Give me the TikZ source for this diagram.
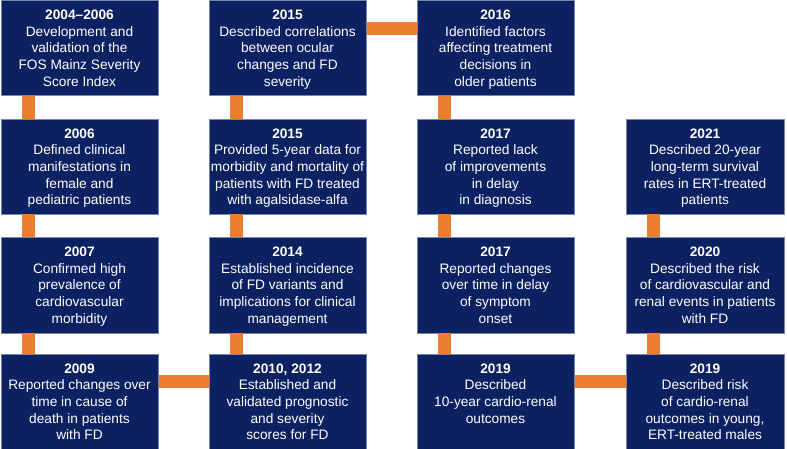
\documentclass[tikz,border=0pt]{standalone}
\usepackage{fontspec}
\setmainfont{Liberation Sans}
\usepackage{tikz}
\usetikzlibrary{positioning}
\definecolor{navy}{RGB}{11,33,97}
\definecolor{fosorange}{RGB}{237,125,49}

\begin{document}
\begin{tikzpicture}[x=1pt, y=-1pt,
    box/.style={rectangle, fill=navy, draw=navy!55!white, line width=0.5pt,
        anchor=north west, minimum width=157.5pt, minimum height=95pt, inner sep=0pt},
    txt/.style={anchor=north, align=center, text=white, inner sep=0pt,
        font=\fontsize{13.7}{16.7}\selectfont, yshift=-9.3pt},
    link/.style={draw=fosorange, line width=13pt}]
    \useasboundingbox (0,0) rectangle (787,449);

    % The boxes, column by column
    \node[box] (fos) at (0.5,0.5) {};
    \node[box] (clin) at (0.5,119) {};
    \node[box] (cardio) at (0.5,237.5) {};
    \node[box] (death) at (0.5,354) {};

    \node[box] (ocular) at (208.5,0.5) {};
    \node[box] (agal) at (208.5,119) {};
    \node[box] (variants) at (208.5,237.5) {};
    \node[box] (scores) at (208.5,354) {};

    \node[box] (older) at (416.5,0.5) {};
    \node[box] (delay) at (416.5,119) {};
    \node[box] (onset) at (416.5,237.5) {};
    \node[box] (tenyr) at (416.5,354) {};

    \node[box] (surv) at (626,119) {};
    \node[box] (risk) at (626,237.5) {};
    \node[box] (young) at (626,354) {};

    % Vertical links
    \foreach \a/\b in {fos/clin, clin/cardio, cardio/death,
                       ocular/agal, agal/variants, variants/scores,
                       older/delay, delay/onset, onset/tenyr,
                       surv/risk, risk/young}
        \draw[link] ([xshift=27.5pt]\a.south west) -- ([xshift=27.5pt]\b.north west);

    % Horizontal links
    \draw[link] ([yshift=-28pt]ocular.north east) -- ([yshift=-28pt]older.north west);
    \draw[link] ([yshift=-27pt]death.north east) -- ([yshift=-27pt]scores.north west);
    \draw[link] ([yshift=-27pt]tenyr.north east) -- ([yshift=-27pt]young.north west);

    % The texts
    \node[txt] (tfos) at (fos.north) {\textbf{2004\textendash2006}\\Development and\\validation of the\\FOS Mainz Severity\\Score Index};
    \node[txt] (tclin) at (clin.north) {\textbf{2006}\\Defined clinical\\manifestations in\\female and\\pediatric patients};
    \node[txt] (tcardio) at (cardio.north) {\textbf{2007}\\Confirmed high\\prevalence of\\cardiovascular\\morbidity};
    \node[txt] (tdeath) at (death.north) {\textbf{2009}\\Reported changes over\\time in cause of\\death in patients\\with FD};

    \node[txt] (tocular) at (ocular.north) {\textbf{2015}\\Described correlations\\between ocular\\changes and FD\\severity};
    \node[txt] (tagal) at (agal.north) {\textbf{2015}\\Provided 5-year data for\\morbidity and mortality of\\patients with FD treated\\with agalsidase-alfa};
    \node[txt] (tvariants) at (variants.north) {\textbf{2014}\\Established incidence\\of FD variants and\\implications for clinical\\management};
    \node[txt] (tscores) at (scores.north) {\textbf{2010, 2012}\\Established and\\validated prognostic\\and severity\\scores for FD};

    \node[txt] (tolder) at (older.north) {\textbf{2016}\\Identified factors\\affecting treatment\\decisions in\\older patients};
    \node[txt] (tdelay) at (delay.north) {\textbf{2017}\\Reported lack\\of improvements\\in delay\\in diagnosis};
    \node[txt] (tonset) at (onset.north) {\textbf{2017}\\Reported changes\\over time in delay\\of symptom\\onset};
    \node[txt] (ttenyr) at (tenyr.north) {\textbf{2019}\\Described\\10-year cardio-renal\\outcomes};

    \node[txt] (tsurv) at (surv.north) {\textbf{2021}\\Described 20-year\\long-term survival\\rates in ERT-treated\\patients};
    \node[txt] (trisk) at (risk.north) {\textbf{2020}\\Described the risk\\of cardiovascular and\\renal events in patients\\with FD};
    \node[txt] (tyoung) at (young.north) {\textbf{2019}\\Described risk\\of cardio-renal\\outcomes in young,\\ERT-treated males};
\end{tikzpicture}
\end{document}
